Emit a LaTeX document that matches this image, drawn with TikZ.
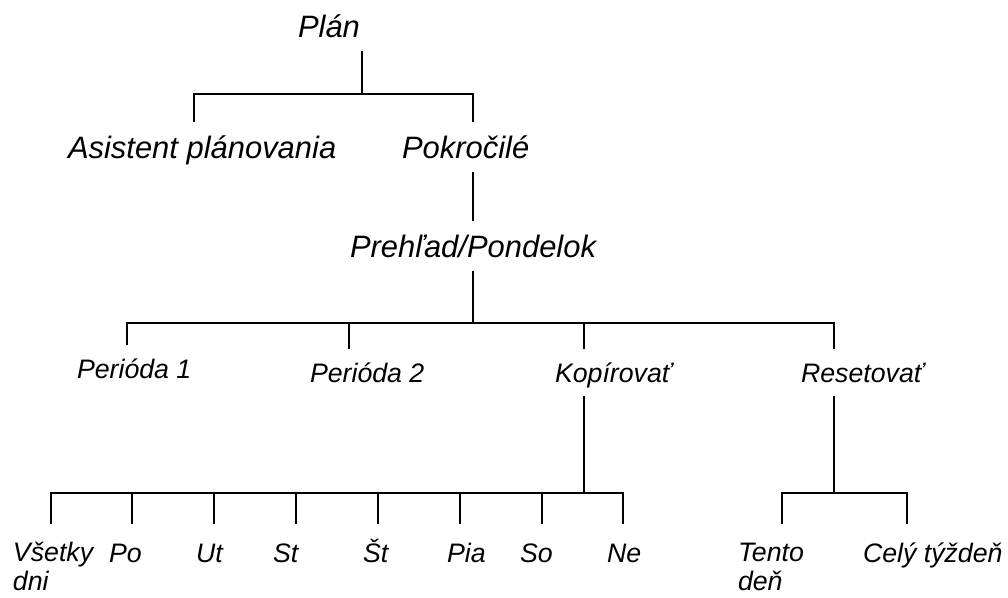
\documentclass[tikz,border=0pt]{standalone}
\usepackage{fontspec}
\setmainfont{Liberation Sans}
\tikzset{
  hd/.style={inner sep=0pt, outer sep=10pt, text depth=0pt, anchor=text,
    font=\fontsize{22}{26}\selectfont\itshape, text height=15.8pt},
  sub/.style={hd, font=\fontsize{19}{22}\selectfont\itshape, text height=13.6pt},
  day/.style={inner sep=0pt, outer sep=13.5pt, anchor=text, align=left,
    font=\fontsize{19}{20}\selectfont\itshape, text height=13.6pt},
  day2/.style={day, text height=33.6pt}
}

\begin{document}
\begin{tikzpicture}[x=0.025cm, y=-0.025cm, line width=1.6pt, line join=miter]
\useasboundingbox (0,0) rectangle (1008,598);
% menu
\node[hd] (plan) at (298,37) {Plán};
\node[hd] (asist) at (68,158) {Asistent plánovania};
\node[hd] (pokr) at (402,158) {Pokročilé};
\node[hd] (preh) at (350,257) {Prehľad/Pondelok};
\coordinate (b1) at (362,94);
\draw (plan.south -| b1) -- (b1);
\draw (asist.north -| 194,0) |- (b1) -| (pokr.north -| 473,0);
\draw (pokr.south -| 473,0) -- (preh.north -| 473,0);
% second level
\node[sub] (per1) at (77,378) {Perióda 1};
\node[sub] (per2) at (310,382) {Perióda 2};
\node[sub] (kopi) at (555,382) {Kopírovať};
\node[sub] (rese) at (801,382) {Resetovať};
\coordinate (b2) at (473,323);
\draw (preh.south -| b2) -- (b2);
\draw (per1.north -| 127,0) |- (b2) -| (rese.north -| 834,0);
\draw (per2.north -| 349,0) -- (b2 -| 349,0);
\draw (kopi.north -| 584,0) -- (b2 -| 584,0);
% kopirovat
\coordinate (b3) at (584,493);
\draw (kopi.south -| b3) -- (b3);
\node[day2] (vset) at (13,590) {Všetky\\dni};
\foreach \n/\x/\l/\t in {po/132/109/Po, ut/214/196/Ut, st/296/273/St,
    sv/378/363/Št, pia/460/447/Pia, so/542/520/So, ne/623/607/Ne}{
  \node[day] (\n) at (\l,562) {\t};
  \draw (\n.north -| \x,0) -- (b3 -| \x,0);
}
\draw (vset.north -| 51,0) |- (b3) -| (ne.north -| 623,0);
% resetovat
\node[day2] (tento) at (738,590) {Tento\\deň};
\node[day] (cely) at (863,562) {Celý týždeň};
\coordinate (b4) at (834,493);
\draw (rese.south -| b4) -- (b4);
\draw (tento.north -| 782,0) |- (b4) -| (cely.north -| 907,0);
\end{tikzpicture}
\end{document}
